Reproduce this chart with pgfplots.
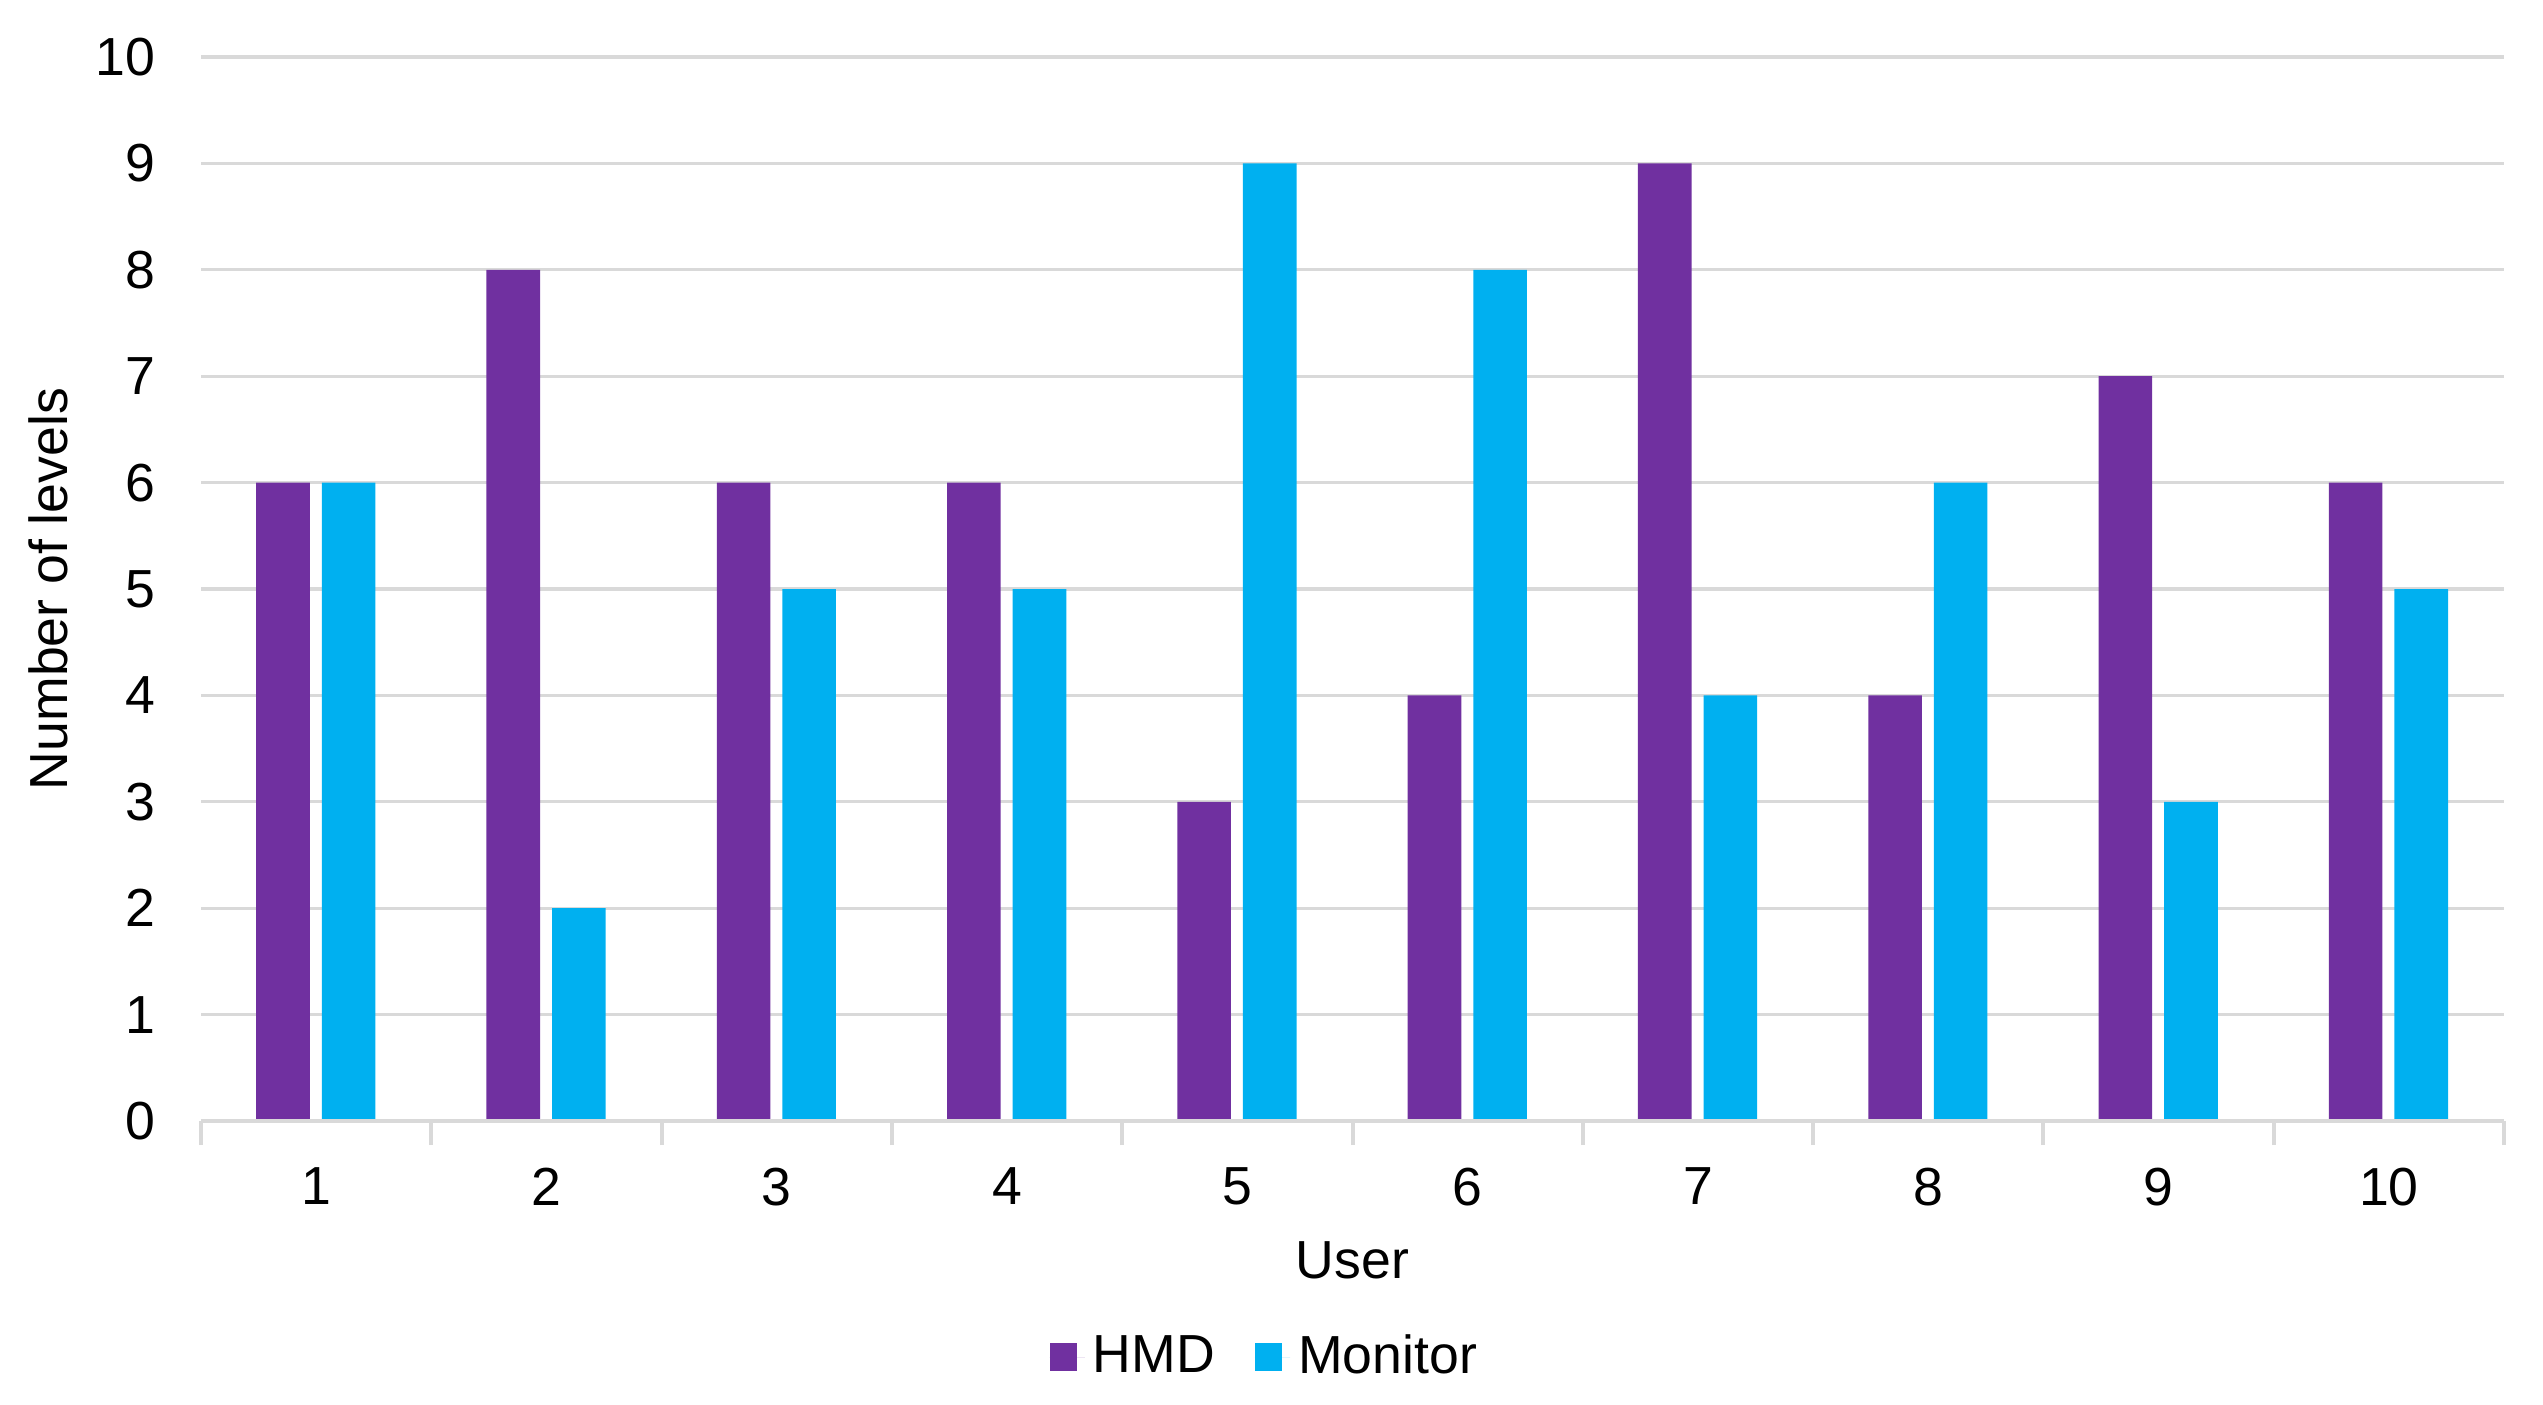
\documentclass[border=0pt]{standalone}
\usepackage{fontspec}
\setmainfont{Liberation Sans}
\usepackage{pgfplots}
\pgfplotsset{compat=1.18}
\definecolor{hmd}{HTML}{7030A0}
\definecolor{mon}{HTML}{00B0F0}
\definecolor{gridc}{HTML}{D9D9D9}
\begin{document}
\begin{tikzpicture}
\begin{axis}[
  at={(0,0)}, anchor=south west,
  scale only axis, width=575.75pt, height=266pt,
  xmin=0.5, xmax=10.5, ymin=0, ymax=10,
  ytick={0,1,...,10},
  xtick={1,...,10},
  minor xtick={0.5,1.5,...,10.5},
  xtick pos=bottom, ytick pos=left,
  major tick length=0pt,
  minor tick length=6pt,
  tick align=outside,
  axis line style={draw=none},
  every minor tick/.style={gridc, line width=1pt},
  ymajorgrids, grid style={gridc, line width=0.8pt},
  /pgf/number format/assume math mode=true,
  tick label style={font=\fontsize{13.4}{16}\selectfont, text=black},
  yticklabel style={xshift=-8pt},
  xticklabel style={yshift=-8.2pt},
  xlabel={User}, ylabel={Number of levels},
  label style={font=\fontsize{13.4}{16}\selectfont},
  xlabel style={yshift=-2pt},
  ylabel style={yshift=0pt},
  ybar, bar width=13.4pt,
  legend style={draw=none, at={(0.463,0)}, anchor=center, yshift=-59pt, legend columns=2,
    font=\fontsize{13.4}{16}\selectfont,
    /tikz/every even column/.append style={column sep=8pt},
    /tikz/every odd column/.append style={column sep=0pt}},
  legend image code/.code={\fill[#1] (0pt,-3.4pt) rectangle (6.8pt,3.4pt); \path (0pt,0pt) -- (8.8pt,0pt);},
  clip=false,
]
\addplot[draw=none, fill=hmd, bar shift=-8.3pt] coordinates {(1,6) (2,8) (3,6) (4,6) (5,3) (6,4) (7,9) (8,4) (9,7) (10,6)};
\addplot[draw=none, fill=mon, bar shift=8.1pt] coordinates {(1,6) (2,2) (3,5) (4,5) (5,9) (6,8) (7,4) (8,6) (9,3) (10,5)};
\draw[gridc, line width=1pt] (axis cs:0.5,0) -- (axis cs:10.5,0);
\legend{HMD, Monitor}
\end{axis}
\useasboundingbox (-50.25pt,-70.75pt) rectangle (585.5pt,280.25pt);
\end{tikzpicture}
\end{document}
